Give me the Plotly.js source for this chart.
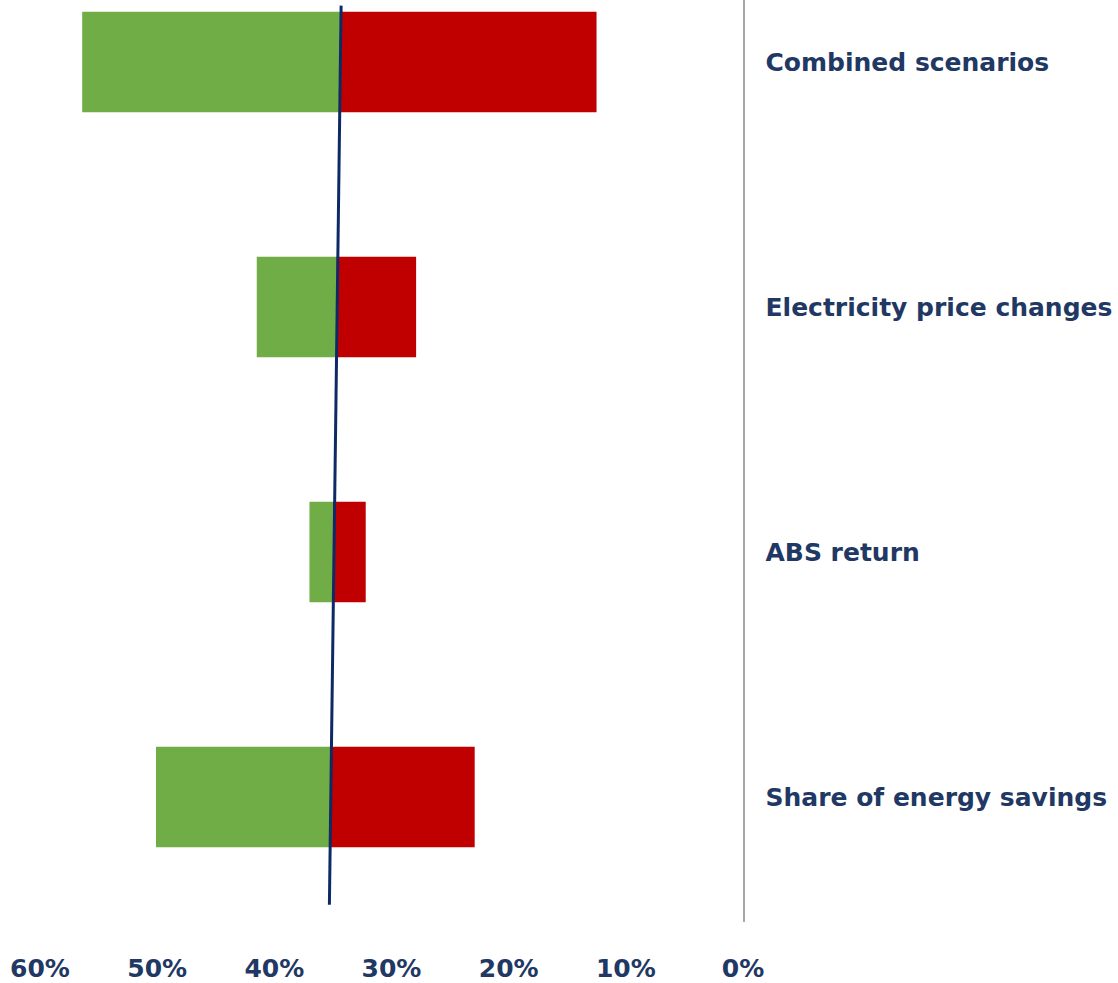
<!DOCTYPE html>
<html>
<head>
<meta charset="utf-8">
<script src="https://cdn.plot.ly/plotly-3.0.1.min.js"></script>
<style>
  html, body { margin: 0; padding: 0; background: #ffffff; }
  #chart { width: 1118px; height: 983px; }
</style>
</head>
<body>
<div id="chart"></div>
<script>
// Sensitivity scenarios, bottom to top
const categories = ['Share of energy savings', 'ABS return', 'Electricity price changes', 'Combined scenarios'];
const catPos = [0, 1, 2, 3];
// Base case value and the high / low outcome of each scenario (%)
const baseValue = [35.2, 35.0, 34.7, 34.4];
const highValue = [50.1, 37.0, 41.5, 56.4];
const lowValue  = [22.9, 32.2, 27.9, 12.5];
// Base-case reference line (end points)
const baseLineX = [34.3, 35.3];
const baseLineY = [3.23, -0.44];
// Axis ticks
const xTickVals = [60, 50, 40, 30, 20, 10, 0];
const xTickText = ['60%', '50%', '40%', '30%', '20%', '10%', '0%'];

const navy = '#1F3864';
const labelFont = { family: 'DejaVu Sans, sans-serif', size: 25, color: navy, weight: 'bold' };

const highTrace = {
  type: 'bar', orientation: 'h',
  y: catPos,
  base: baseValue,
  x: highValue.map((v, i) => v - baseValue[i]),
  width: 0.41,
  marker: { color: '#70AD47', line: { width: 0 } },
  hoverinfo: 'skip', showlegend: false
};
const lowTrace = {
  type: 'bar', orientation: 'h',
  y: catPos,
  base: baseValue,
  x: lowValue.map((v, i) => v - baseValue[i]),
  width: 0.41,
  marker: { color: '#C00000', line: { width: 0 } },
  hoverinfo: 'skip', showlegend: false
};
const baseLine = {
  type: 'scatter', mode: 'lines',
  x: baseLineX, y: baseLineY,
  line: { color: '#0E2A66', width: 3 },
  hoverinfo: 'skip', showlegend: false
};

const layout = {
  width: 1118, height: 983,
  margin: { l: 40, r: 375, t: 0, b: 61 },
  paper_bgcolor: '#ffffff', plot_bgcolor: '#ffffff',
  barmode: 'overlay',
  xaxis: {
    range: [60, 0],
    tickmode: 'array',
    tickvals: xTickVals,
    ticktext: xTickText,
    showgrid: false, zeroline: false, showline: false,
    ticks: '', ticklabelstandoff: 29,
    tickfont: labelFont
  },
  yaxis: {
    range: [-0.51, 3.253],
    side: 'right',
    tickmode: 'array',
    tickvals: catPos,
    ticktext: categories,
    showgrid: false, zeroline: false,
    showline: true, linecolor: '#A6A6A6', linewidth: 1.5,
    ticks: '', ticklabelstandoff: 16,
    tickfont: labelFont
  }
};

Plotly.newPlot('chart', [highTrace, lowTrace, baseLine], layout, { displayModeBar: false, staticPlot: true });
</script>
</body>
</html>
